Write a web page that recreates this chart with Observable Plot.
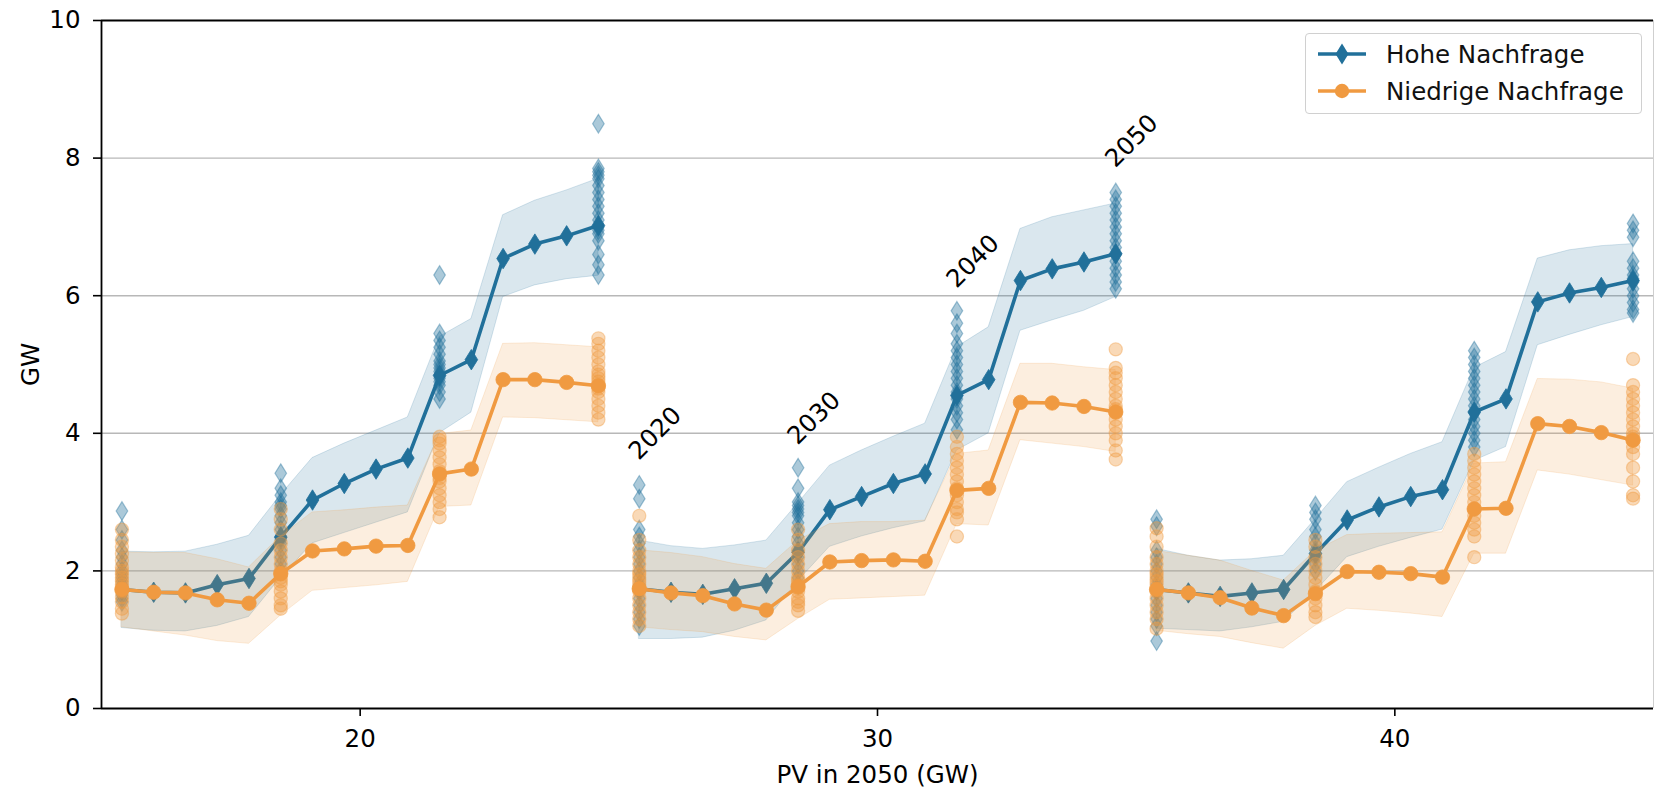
<!DOCTYPE html>
<html>
<head>
<meta charset="utf-8">
<script src="https://cdn.jsdelivr.net/npm/d3@7"></script>
<script src="https://cdn.jsdelivr.net/npm/@observablehq/plot@0.6"></script>
<style>
  html, body { margin: 0; padding: 0; background: #fff; }
  #wrap { position: relative; width: 1654px; height: 788px; font-family: "DejaVu Sans", sans-serif; }
  #legend { position: absolute; left: 1305px; top: 33px; width: 337px; height: 81px;
            border: 1px solid #d0d0d0; border-radius: 4px; background: rgba(255,255,255,0.85); box-sizing: border-box; }
  .lg { position: absolute; left: 0; height: 30px; display: flex; align-items: center; font-size: 24.5px; color: #111; white-space: nowrap; }
  .lg svg { margin-left: 12px; margin-right: 20px; }
</style>
</head>
<body>
<div id="wrap"></div>
<script>
// ---- data ----
const years = [2020,2022,2024,2026,2028,2030,2032,2034,2036,2038,2040,2042,2044,2046,2048,2050];
const pvValues = [20, 30, 40];
const scatterYears = [2020, 2030, 2040, 2050];
const seriesNames = ["Hohe Nachfrage", "Niedrige Nachfrage"];
const xTicks = [20, 30, 40];
const yTicks = [0, 2, 4, 6, 8, 10];
const yearOffsetPerYear = 0.307; // x offset of a year within a PV group

// Hohe Nachfrage (median line, band low, band high)
const highMid20 = [1.73,1.69,1.68,1.80,1.89,2.49,3.03,3.27,3.48,3.64,4.84,5.07,6.54,6.75,6.87,7.02];
const highLo20  = [1.17,1.13,1.12,1.20,1.33,1.90,2.40,2.55,2.70,2.85,4.00,4.30,5.98,6.15,6.24,6.29];
const highHi20  = [2.28,2.27,2.28,2.38,2.51,3.10,3.64,3.85,4.04,4.23,5.40,5.66,7.17,7.38,7.53,7.70];
const highMid30 = [1.74,1.69,1.66,1.74,1.82,2.27,2.89,3.08,3.27,3.41,4.55,4.78,6.22,6.39,6.49,6.61];
const highLo30  = [1.01,1.01,1.03,1.13,1.28,1.85,2.35,2.50,2.62,2.72,3.75,4.00,5.49,5.64,5.78,5.98];
const highHi30  = [2.44,2.36,2.32,2.37,2.44,2.98,3.53,3.75,3.95,4.14,5.25,5.54,6.97,7.14,7.24,7.34];
const highMid40 = [1.73,1.68,1.63,1.68,1.73,2.25,2.74,2.93,3.08,3.18,4.31,4.50,5.91,6.04,6.12,6.22];
const highLo40  = [1.16,1.14,1.12,1.18,1.26,1.70,2.20,2.35,2.48,2.60,3.60,3.80,5.28,5.43,5.57,5.69];
const highHi40  = [2.32,2.22,2.15,2.17,2.22,2.75,3.29,3.50,3.70,3.87,4.95,5.18,6.54,6.66,6.72,6.75];

// Niedrige Nachfrage
const lowMid20 = [1.73,1.69,1.68,1.58,1.53,1.96,2.29,2.32,2.36,2.37,3.41,3.48,4.78,4.78,4.74,4.69];
const lowLo20  = [1.18,1.12,1.06,0.98,0.94,1.35,1.71,1.75,1.79,1.84,2.93,2.95,4.23,4.22,4.19,4.16];
const lowHi20  = [2.27,2.26,2.26,2.17,2.05,2.50,2.85,2.88,2.92,2.95,3.99,4.04,5.30,5.31,5.28,5.25];
const lowMid30 = [1.74,1.68,1.64,1.52,1.43,1.77,2.13,2.15,2.16,2.14,3.17,3.20,4.45,4.44,4.39,4.31];
const lowLo30  = [1.18,1.14,1.11,1.04,0.99,1.30,1.58,1.60,1.62,1.64,2.68,2.66,3.90,3.85,3.80,3.73];
const lowHi30  = [2.30,2.26,2.20,2.10,2.03,2.44,2.68,2.71,2.71,2.73,3.70,3.75,5.01,5.01,4.96,4.92];
const lowMid40 = [1.73,1.68,1.61,1.46,1.35,1.67,1.99,1.98,1.96,1.91,2.90,2.91,4.14,4.10,4.01,3.90];
const lowLo40  = [1.13,1.08,1.04,0.95,0.87,1.20,1.45,1.42,1.38,1.33,2.25,2.25,3.46,3.40,3.32,3.24];
const lowHi40  = [2.29,2.22,2.15,2.00,1.86,2.29,2.52,2.54,2.55,2.56,3.56,3.58,4.79,4.78,4.74,4.65];

// individual runs at 2020, 2030, 2040, 2050
const highRuns20 = [
  [2.87,2.60,2.45,2.30,2.20,2.10,2.00,1.95,1.90,1.85,1.80,1.75,1.70,1.65,1.60,1.55],
  [3.42,3.20,3.10,3.00,2.95,2.90,2.80,2.70,2.60,2.50,2.45,2.40,2.30,2.20,2.10,2.00],
  [6.30,5.45,5.35,5.25,5.15,5.05,5.00,4.95,4.90,4.85,4.80,4.75,4.70,4.60,4.50],
  [8.50,7.85,7.80,7.75,7.70,7.60,7.50,7.40,7.30,7.20,7.10,7.00,6.95,6.90,6.80,6.60,6.45,6.30]
];
const lowRuns20 = [
  [2.60,2.45,2.35,2.25,2.15,2.05,2.00,1.95,1.90,1.85,1.80,1.75,1.70,1.62,1.55,1.45,1.38],
  [2.90,2.75,2.60,2.40,2.30,2.20,2.10,2.00,1.95,1.90,1.85,1.80,1.70,1.60,1.50,1.45],
  [3.95,3.90,3.85,3.75,3.65,3.55,3.45,3.40,3.35,3.30,3.20,3.10,3.00,2.90,2.78],
  [5.38,5.30,5.20,5.10,5.00,4.90,4.85,4.80,4.75,4.70,4.65,4.60,4.50,4.40,4.30,4.20]
];
const highRuns30 = [
  [3.25,3.05,2.60,2.50,2.40,2.30,2.20,2.10,2.00,1.90,1.80,1.70,1.60,1.50,1.40,1.30,1.20],
  [3.50,3.20,3.00,2.95,2.90,2.85,2.80,2.70,2.60,2.50,2.40,2.30,2.20,2.10,2.00,1.90,1.80],
  [5.78,5.60,5.45,5.30,5.20,5.10,5.00,4.90,4.80,4.70,4.60,4.50,4.40,4.30,4.20,4.05],
  [7.50,7.40,7.30,7.20,7.10,7.00,6.90,6.80,6.70,6.60,6.50,6.40,6.30,6.20,6.10]
];
const lowRuns30 = [
  [2.80,2.45,2.30,2.20,2.10,2.00,1.95,1.90,1.85,1.80,1.75,1.70,1.60,1.50,1.40,1.30,1.20],
  [2.60,2.45,2.30,2.20,2.10,2.00,1.90,1.85,1.80,1.75,1.70,1.60,1.55,1.50,1.42],
  [3.95,3.80,3.70,3.60,3.50,3.40,3.30,3.20,3.10,3.00,2.90,2.85,2.75,2.50],
  [5.22,4.95,4.88,4.80,4.70,4.60,4.50,4.40,4.35,4.30,4.20,4.10,4.00,3.90,3.75,3.62]
];
const highRuns40 = [
  [2.75,2.65,2.30,2.20,2.10,2.00,1.90,1.80,1.70,1.60,1.50,1.40,1.30,1.20,0.98],
  [2.95,2.85,2.75,2.60,2.50,2.40,2.30,2.20,2.10,2.00],
  [5.20,5.10,5.00,4.90,4.80,4.70,4.60,4.50,4.40,4.30,4.20,4.10,4.00,3.90,3.80],
  [7.05,6.95,6.85,6.50,6.40,6.30,6.25,6.20,6.10,6.00,5.90,5.80,5.75]
];
const lowRuns40 = [
  [2.62,2.50,2.35,2.20,2.10,2.00,1.95,1.90,1.85,1.80,1.70,1.60,1.50,1.40,1.30,1.16],
  [2.45,2.35,2.20,2.10,2.00,1.90,1.80,1.70,1.60,1.50,1.40,1.33],
  [3.70,3.60,3.50,3.40,3.30,3.20,3.10,3.00,2.90,2.80,2.70,2.60,2.50,2.20],
  [5.08,4.70,4.60,4.50,4.40,4.30,4.20,4.10,4.00,3.95,3.90,3.80,3.70,3.50,3.30,3.10,3.05]
];

// year annotations (placed above the PV=30 group)
const annotationYears = [2020, 2030, 2040, 2050];
const annotationLabels = ["2020", "2030", "2040", "2050"];
const annotationY = [4.0, 4.22, 6.5, 8.25];

// ---- build tables ----
const colors = {"Hohe Nachfrage": "#21709a", "Niedrige Nachfrage": "#f09a41"};
const xOf = (pv, year) => pv + (year - 2035) * yearOffsetPerYear;

const seriesTables = {
  "Hohe Nachfrage": {20: [highMid20, highLo20, highHi20], 30: [highMid30, highLo30, highHi30], 40: [highMid40, highLo40, highHi40]},
  "Niedrige Nachfrage": {20: [lowMid20, lowLo20, lowHi20], 30: [lowMid30, lowLo30, lowHi30], 40: [lowMid40, lowLo40, lowHi40]}
};
const runTables = {
  "Hohe Nachfrage": {20: highRuns20, 30: highRuns30, 40: highRuns40},
  "Niedrige Nachfrage": {20: lowRuns20, 30: lowRuns30, 40: lowRuns40}
};

function lineRows(name) {
  const rows = [];
  for (const pv of pvValues) {
    const [mid, lo, hi] = seriesTables[name][pv];
    years.forEach((yr, i) => rows.push({name, pv, year: yr, x: xOf(pv, yr), mid: mid[i], lo: lo[i], hi: hi[i]}));
  }
  return rows;
}
function runRows(name) {
  const rows = [];
  for (const pv of pvValues) {
    runTables[name][pv].forEach((vals, j) => vals.forEach(v => rows.push({name, pv, year: scatterYears[j], x: xOf(pv, scatterYears[j]), v})));
  }
  return rows;
}

const thinDiamond = {
  draw(ctx, size) {
    const r = Math.sqrt(size / Math.PI);
    const h = r * 1.42, w = r * 0.88;
    ctx.moveTo(0, -h); ctx.lineTo(w, 0); ctx.lineTo(0, h); ctx.lineTo(-w, 0); ctx.closePath();
  }
};
const symbols = {"Hohe Nachfrage": thinDiamond, "Niedrige Nachfrage": "circle"};

function seriesMarks(name) {
  const c = colors[name];
  const rows = lineRows(name);
  const runs = runRows(name);
  return [
    Plot.areaY(rows, {x: "x", y1: "lo", y2: "hi", z: "pv", fill: c, fillOpacity: 0.17, stroke: c, strokeOpacity: 0.18, strokeWidth: 1}),
    Plot.dot(runs, {x: "x", y: "v", symbol: symbols[name], r: 6.6, fill: c, fillOpacity: 0.38, stroke: c, strokeOpacity: 0.4, strokeWidth: 1.2}),
    Plot.line(rows, {x: "x", y: "mid", z: "pv", stroke: c, strokeWidth: 3.6}),
    Plot.dot(rows, {x: "x", y: "mid", symbol: symbols[name], r: 7.2, fill: c, stroke: c, strokeWidth: 0.8})
  ];
}

const annotations = annotationYears.map((yr, i) => ({x: xOf(30, yr), y: annotationY[i], label: annotationLabels[i]}));

const chart = Plot.plot({
  width: 1654,
  height: 788,
  marginLeft: 101,
  marginRight: 1,
  marginTop: 20,
  marginBottom: 80,
  x: {domain: [15, 45]},
  y: {domain: [0, 10]},
  style: {fontFamily: "DejaVu Sans", fontSize: "24.5px", color: "#000", background: "#fff", overflow: "visible"},
  marks: [
    Plot.gridY([2, 4, 6, 8], {stroke: "#b8b8b8", strokeOpacity: 1, strokeWidth: 1.4}),
    ...seriesMarks("Hohe Nachfrage"),
    ...seriesMarks("Niedrige Nachfrage"),
    Plot.text(annotations, {x: "x", y: "y", text: "label", rotate: -45, dx: 16, textAnchor: "middle", lineAnchor: "middle", fontSize: 24.5, fill: "#000"}),
    Plot.ruleY([0], {stroke: "#000", strokeWidth: 1.8}),
    Plot.ruleY([10], {stroke: "#000", strokeWidth: 1.8}),
    Plot.ruleX([15], {stroke: "#000", strokeWidth: 1.8}),
    Plot.ruleX([45], {stroke: "#cfcfcf", strokeWidth: 1}),
    Plot.axisX(xTicks, {tickSize: 8, tickPadding: 13, strokeWidth: 1.6, fontSize: 24.5, tickFormat: d3.format("d"), label: "PV in 2050 (GW)", labelAnchor: "center", labelOffset: 74, labelArrow: "none"}),
    Plot.axisY(yTicks, {tickSize: 8, tickPadding: 13, strokeWidth: 1.6, fontSize: 24.5, tickFormat: d3.format("d"), label: "GW", labelAnchor: "center", labelOffset: 80, labelArrow: "none"})
  ]
});

const wrap = document.getElementById("wrap");
wrap.appendChild(chart);

// legend
const legend = document.createElement("div");
legend.id = "legend";
seriesNames.forEach((name, i) => {
  const row = document.createElement("div");
  row.className = "lg";
  row.style.top = (5 + i * 37) + "px";
  const c = colors[name];
  const marker = name === "Hohe Nachfrage"
    ? `<path d="M24,4.5 L30.5,15 L24,25.5 L17.5,15 Z" fill="${c}"/>`
    : `<circle cx="24" cy="15" r="7.2" fill="${c}"/>`;
  row.innerHTML = `<svg width="48" height="30"><line x1="0" y1="15" x2="48" y2="15" stroke="${c}" stroke-width="3.6"/>${marker}</svg><span>${name}</span>`;
  legend.appendChild(row);
});
wrap.appendChild(legend);
</script>
</body>
</html>
